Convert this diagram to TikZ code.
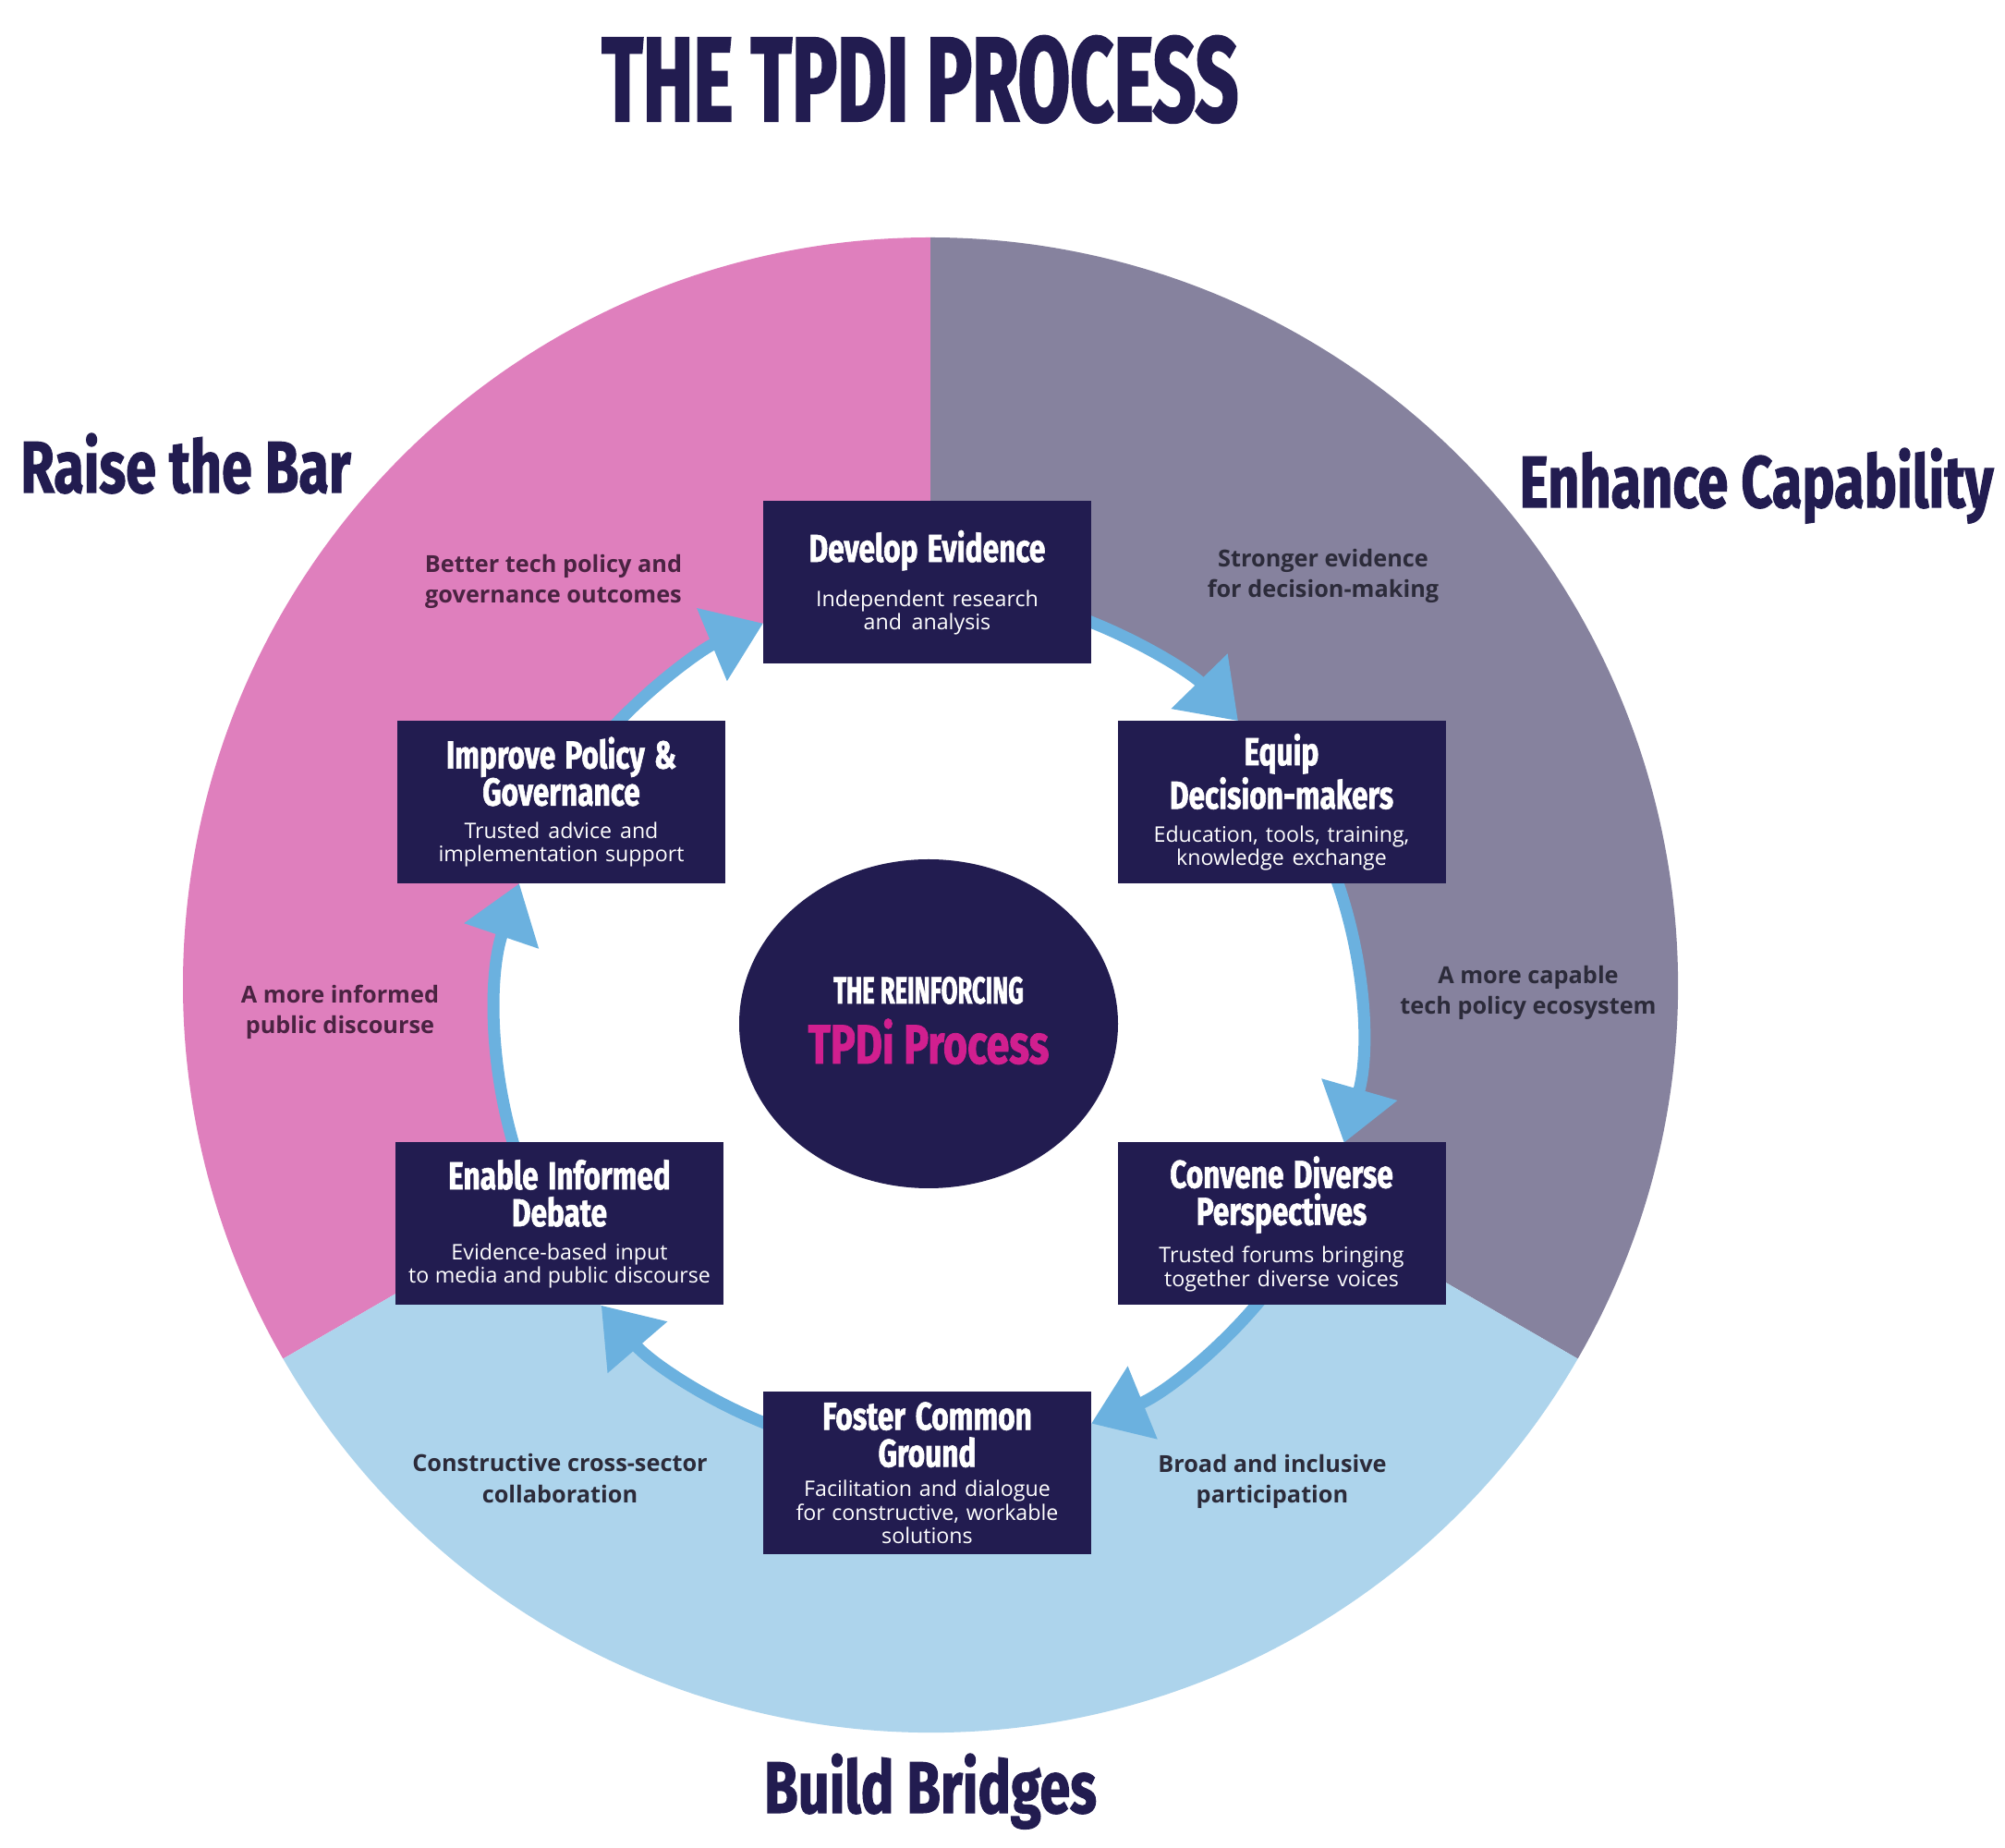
\documentclass[tikz,border=0pt]{standalone}
\usepackage{fontspec}
\usetikzlibrary{arrows.meta,shapes.geometric}
\setmainfont{Open Sans}
\newfontfamily\bodyfont{Open Sans}
\newfontfamily\titlefont[FakeStretch=0.63,FakeBold=1.6]{Fira Sans}
\newfontfamily\headfont[FakeStretch=0.75,FakeBold=1.4]{Fira Sans}
\definecolor{navy}{HTML}{221C50}
\definecolor{pinkseg}{HTML}{DF7FBD}
\definecolor{greyseg}{HTML}{86829E}
\definecolor{blueseg}{HTML}{ADD4EC}
\definecolor{arrowblue}{HTML}{6BB1DF}
\definecolor{magentatxt}{HTML}{D11F8F}
\definecolor{pinklabel}{HTML}{4A2342}
\definecolor{darklabel}{HTML}{2C2B3A}
\newcommand\bxtitle[1]{{\headfont\bfseries\fontsize{12}{11.4}\selectfont\spaceskip=0pt\xspaceskip=0pt #1\par}}
\newcommand\bxsub[1]{{\bodyfont\fontsize{6.6}{7.2}\selectfont\spaceskip=0pt\xspaceskip=0pt #1\par}}
\tikzset{
  stepbox/.style={fill=navy, minimum width=3.55cm, minimum height=1.76cm,
    text width=3.5cm, align=center, inner sep=0pt, text=white},
  ringarrow/.style={line width=0.13cm, draw=arrowblue,
    -{Triangle[width=0.82cm,length=0.6cm]}},
  outlabel/.style={align=center, font=\bodyfont\bfseries\fontsize{7.2}{9.4}\selectfont},
  section/.style={text=navy, anchor=base, font=\headfont\bfseries\fontsize{22.5}{24}\selectfont},
}
\begin{document}
\begin{tikzpicture}
\path[use as bounding box, fill=white] (0,0) rectangle (21.7,20);
\coordinate (cc) at (10.07,9.34);
\coordinate (rc) at (10.05,8.93);
% outer segments
\fill[pinkseg] (cc) -- ++(90:8.09) arc[start angle=90,end angle=210,radius=8.09] -- cycle;
\fill[greyseg] (cc) -- ++(-30:8.09) arc[start angle=-30,end angle=90,radius=8.09] -- cycle;
\fill[blueseg] (cc) -- ++(210:8.09) arc[start angle=210,end angle=330,radius=8.09] -- cycle;
\fill[white] (rc) circle[radius=4.68];
% ring arrows
\draw[ringarrow] ([shift={(71:4.68)}]rc) arc[start angle=71,end angle=44.3,radius=4.68];
\draw[ringarrow] ([shift={(22:4.68)}]rc) arc[start angle=22,end angle=-16.1,radius=4.68];
\draw[ringarrow] ([shift={(-37:4.68)}]rc) arc[start angle=-37,end angle=-67.9,radius=4.68];
\draw[ringarrow] ([shift={(-109:4.68)}]rc) arc[start angle=-109,end angle=-139.2,radius=4.68];
\draw[ringarrow] ([shift={(199:4.68)}]rc) arc[start angle=199,end angle=161.2,radius=4.68];
\draw[ringarrow] ([shift={(138:4.68)}]rc) arc[start angle=138,end angle=112.5,radius=4.68];
% boxes
\node[stepbox] (dev) at (10.035,13.695) {\bxtitle{Develop Evidence}\vskip5pt\bxsub{Independent research\\and analysis}};
\node[stepbox] (equip) at (13.87,11.32) {\bxtitle{Equip\\Decision-makers}\vskip3pt\bxsub{Education, tools, training,\\knowledge exchange}};
\node[stepbox] (conv) at (13.87,6.755) {\bxtitle{Convene Diverse\\Perspectives}\vskip3pt\bxsub{Trusted forums bringing\\together diverse voices}};
\node[stepbox] (fost) at (10.035,4.06) {\bxtitle{Foster Common\\Ground}\vskip2pt\bxsub{Facilitation and dialogue\\for constructive, workable\\solutions}};
\node[stepbox] (enab) at (6.055,6.755) {\bxtitle{Enable Informed\\Debate}\vskip3pt\bxsub{Evidence-based input\\to media and public discourse}};
\node[stepbox] (impr) at (6.075,11.32) {\bxtitle{Improve Policy \&\\Governance}\vskip3pt\bxsub{Trusted advice and\\implementation support}};
% centre
\node[ellipse, fill=navy, minimum width=4.1cm, minimum height=3.56cm, inner sep=0pt] (core) at (10.05,8.92) {};
\node[anchor=base, text=white, font=\titlefont\bfseries\fontsize{11.6}{12}\selectfont] (corea) at (10.05,9.14) {THE REINFORCING};
\node[anchor=base, text=magentatxt, font=\headfont\bfseries\fontsize{17}{18}\selectfont] (coreb) at (10.05,8.49) {TPDi Process};
% outcome labels
\node[outlabel, text=pinklabel] (o1) at (5.99,13.71) {Better tech policy and\\governance outcomes};
\node[outlabel, text=darklabel] (o2) at (14.32,13.77) {Stronger evidence\\for decision-making};
\node[outlabel, text=darklabel] (o3) at (16.54,9.26) {A more capable\\tech policy ecosystem};
\node[outlabel, text=darklabel] (o4) at (13.77,3.97) {Broad and inclusive\\participation};
\node[outlabel, text=darklabel] (o5) at (6.06,4.0) {Constructive cross-sector\\collaboration};
\node[outlabel, text=pinklabel] (o6) at (3.68,9.05) {A more informed\\public discourse};
% section labels
\node[section] (raise) at (2.01,14.67) {Raise the Bar};
\node[section] (enh) at (19.01,14.51) {Enhance Capability};
\node[section] (build) at (10.07,0.38) {Build Bridges};
% title
\node[anchor=base, text=navy, font=\titlefont\bfseries\fontsize{37}{40}\selectfont] (title) at (9.96,18.69) {THE TPDI PROCESS};
\end{tikzpicture}
\end{document}
